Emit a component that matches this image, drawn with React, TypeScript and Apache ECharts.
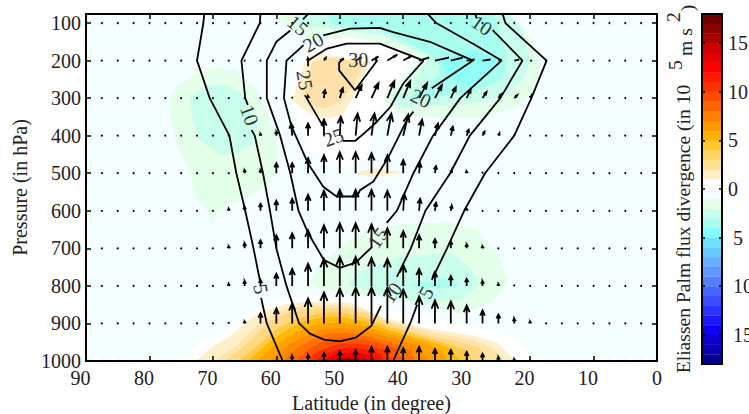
import React, { useEffect, useRef } from "react";
import * as echarts from "echarts";

type P = number[][];
const SERIF = "'Liberation Serif', 'Times New Roman', serif";

const pressureTicks = [100, 200, 300, 400, 500, 600, 700, 800, 900, 1000];
const barTicks = [-15, -10, -5, 0, 5, 10, 15];
const arrowLats = [87.5, 85, 82.5, 80, 77.5, 75, 72.5, 70, 67.5, 65, 62.5, 60, 57.5, 55, 52.5, 50, 47.5, 45, 42.5, 40, 37.5, 35, 32.5, 30, 27.5, 25, 22.5, 20, 17.5, 15, 12.5, 10, 7.5, 5, 2.5];

// Vertical and horizontal flux components per pressure level
const fz100 = [];
const fz200 = [0, 0, 0, 0, 0, 0, 0, 0, 0, 0, 0, 0, 0, 2, 3, 2, 3, 4, 6, 5, 3, 3, 3, 1, 1, 1, 1];
const fx200 = [0, 0, 0, 0, 0, 0, 0, 0, 0, 0, 0, 0, 0, 0, 2, 4, 6, 7, 10, 9, 10, 14, 12, 8, 8, 3, 5, 2];
const fz300 = [0, 0, 0, 0, 0, 0, 0, 0, 0, 0, 0, 0, 1, 2, 8, 10, 13, 15, 17, 17, 15, 13, 11, 9, 6, 4, 3, 2];
const fx300 = [0, 0, 0, 0, 0, 0, 0, 0, 0, 0, 0, 0, 0, 0, 1, 3, 6, 7, 7, 7, 8, 7, 5, 4, 4, 3, 3, 1];
const fz400 = [0, 0, 0, 0, 0, 0, 0, 0, 0, 0, 2, 4, 12, 12, 16, 19, 22, 22, 22, 21, 16, 12, 9, 6, 4, 2, 1];
const fx400 = [0, 0, 0, 0, 0, 0, 0, 0, 0, 0, 0, 0, -1, 0, 0, 1, 2, 3, 4, 5, 3, 3, 2, 2, 2, 1];
const fz500 = [0, 0, 0, 0, 0, 0, 0, 0, 0, 3, 3, 10, 10, 15, 18, 21, 21, 20, 18, 13, 10, 7, 3, 2, 1];
const fx500 = [0, 0, 0, 0, 0, 0, 0, 0, 0, 0, 0, 0, 0, 0, 0, 0, 0, 0, 0, 0, 1, 1, 1];
const fz600 = [0, 0, 0, 0, 0, 0, 0, 0, 2, 4, 7, 10, 12, 16, 20, 21, 21, 21, 20, 17, 12, 8, 5, 2];
const fx600 = [0, 0, 0, 0, 0, 0, 0, 0, 0, 0, 0, 0, 0, 0, 0, 0, 0, 0, 0, 1, 1, 1, 1];
const fz700 = [0, 0, 0, 0, 0, 0, 0, 0, 2, 5, 8, 13, 15, 18, 23, 25, 25, 24, 20, 17, 13, 9, 7, 4, 2];
const fz800 = [0, 0, 0, 0, 0, 0, 0, 0, 2, 5, 6, 12, 17, 22, 27, 29, 29, 28, 27, 21, 17, 14, 10, 7, 5, 2, 1];
const fz900 = [0, 0, 0, 0, 0, 0, 0, 0, 1, 2, 10, 15, 20, 25, 31, 35, 36, 36, 36, 34, 27, 23, 22, 18, 13, 9, 5, 2];
const fz1000 = [0, 0, 0, 0, 0, 0, 0, 0, 0, 0, 0, 0, 5, 6, 8, 10, 11, 14, 14, 13, 14, 12, 11, 9, 7, 4, 2, 1];
const fzRows = [fz100, fz200, fz300, fz400, fz500, fz600, fz700, fz800, fz900, fz1000];
const fxRows = [[], fx200, fx300, fx400, fx500, fx600, [], [], [], []];

// Contour segments: [latitude, pressure]
const c5a: P = [[71.2, 50], [71.5, 100], [72.5, 200], [70.5, 300], [67.4, 400], [66.3, 500], [64.9, 600], [63.6, 700], [62.6, 785]];
const c5b: P = [[62.4, 832], [61.5, 900], [59, 1000]];
const c5c: P = [[41.6, 1000], [38.9, 900], [37.8, 850]];
const c5d: P = [[35.5, 784], [33.1, 700], [30.4, 600], [27.1, 500], [22.5, 400], [19.8, 300], [17.4, 200], [23.9, 100], [24.8, 50]];
const c10a: P = [[62.4, 50], [62.6, 100], [65.5, 200], [64.9, 300], [64.5, 318]];
const c10b: P = [[63.9, 385], [63.4, 400], [62.1, 500], [61, 600], [60, 700], [58.4, 800], [56.4, 900], [54.7, 927], [52.5, 943], [50, 948], [47.5, 938], [45, 906], [43.5, 853]];
const c10c: P = [[41, 776], [38.8, 700], [36.5, 600], [32.6, 500], [29.5, 400], [24.7, 300], [21.2, 200], [25.9, 119]];
const c10d: P = [[29, 60], [28.4, 88]];
const c15a: P = [[53, 50], [55, 76], [55.8, 90]];
const c15b: P = [[57.8, 120], [60, 150], [61.5, 200], [61.5, 300], [59.4, 400], [57.8, 500], [56.5, 600], [55, 659], [52.5, 731], [50, 752], [47.5, 738], [44.9, 696]];
const c15c: P = [[42.6, 632], [41, 600], [38.4, 500], [35.3, 400], [31, 300], [24.5, 200], [29, 155], [34.8, 100], [37, 60]];
const c20a: P = [[55.7, 159], [58.4, 200], [58.8, 300], [57.6, 376], [55, 474], [52.6, 536], [50.5, 562], [47.3, 562], [46.8, 545], [44.7, 522], [42.3, 456], [39.4, 358], [38.4, 336]];
const c20b: P = [[35.5, 274], [29, 200], [35.8, 150], [41.6, 124], [43.7, 113], [48.4, 115], [52.6, 133]];
const c25a: P = [[55.5, 292], [52.6, 376]];
const c25b: P = [[49.5, 414], [47.6, 414], [46.8, 403], [44.4, 367], [42, 323], [40, 261], [36.8, 200], [38.9, 186], [43.7, 155], [48.9, 155], [52, 168], [55, 200], [55, 215]];
const c30: P = [[49.4, 196], [50.1, 205], [50.1, 226], [47.6, 279], [44.1, 200], [44.5, 197]];
const contours = [c5a, c5b, c5c, c5d, c10a, c10b, c10c, c10d, c15a, c15b, c15c, c20a, c20b, c25a, c25b, c30];

// Contour labels: text, latitude, pressure, tilt in degrees
const contourLabels: [string, number, number, number][] = [
  ["5", 62.4, 808, -80], ["10", 64.2, 345, -70], ["15", 56.6, 106, -40], ["20", 54.2, 151, 30],
  ["25", 55.5, 252, -80], ["30", 47.1, 199, 0], ["25", 51, 404, 20], ["20", 37.2, 300, -25],
  ["10", 27.6, 106, -35], ["15", 44, 672, 55], ["10", 41.8, 818, 55], ["5", 36.4, 818, 60],
];

// Divergence outlines, pale to saturated
const whiteA: P = [[57, 200], [52, 140], [45, 140], [38, 180], [41, 260], [44, 340], [46, 450], [50, 500], [55, 430], [58, 300]];
const whiteB: P = [[75, 1000], [72, 950], [67, 900], [62, 850], [55, 825], [48, 825], [43, 860], [36, 885], [28, 910], [22, 940], [19, 1000]];
const upperCold1: P = [[59.9, 76], [23.6, 76], [22.1, 93], [20, 138], [18.4, 207], [19.5, 287], [22.1, 324], [27.9, 353], [34.2, 353], [40, 345], [43.2, 305], [42.1, 279], [39.4, 239], [37.4, 199], [39.4, 178], [43.7, 151], [48.9, 138], [54.2, 146], [57.4, 119], [59.4, 98]];
const upperCold2: P = [[57.4, 76], [23.2, 76], [21.1, 127], [20, 199], [21.1, 247], [23.6, 292], [28.4, 313], [33.7, 319], [40, 324], [42.1, 292], [38.5, 250], [35.8, 191], [38.5, 170], [43.2, 133], [48.9, 119], [56.3, 106]];
const upperCold3: P = [[52, 76], [25.9, 76], [24.7, 127], [23.6, 199], [24.3, 252], [29.5, 287], [39.4, 302], [36.3, 266], [34.2, 239], [34.7, 196], [38.5, 159], [43.7, 119], [51, 106]];
const upperCold4: P = [[34.2, 199], [29.5, 172], [24.7, 199], [26.3, 239], [29.5, 266], [32.6, 247]];
const leftCold1: P = [[76.8, 300], [76, 271], [72.5, 234], [69.4, 220], [66.2, 226], [63, 279], [61.5, 340], [59.9, 403], [59.9, 483], [61.5, 536], [62.6, 545], [65.3, 571], [69.2, 598], [70, 643], [70.9, 598], [72.5, 571], [73.6, 499], [76, 412], [76.8, 340]];
const leftCold2: P = [[73.6, 297], [70.9, 266], [67.8, 266], [64.6, 297], [63, 377], [63.7, 420], [66.2, 446], [68.9, 451], [72, 412], [73.1, 367]];
const lowCold1: P = [[54.7, 797], [53.6, 749], [50.4, 704], [46.8, 661], [41, 637], [33, 629], [28.4, 651], [25.2, 709], [23.5, 791], [26.3, 845], [31, 874], [35.3, 858], [41.6, 831], [48.4, 818], [52.7, 810]];
const lowCold2: P = [[48.9, 797], [46.8, 762], [41, 725], [32.6, 712], [29.5, 752], [27.9, 797], [31, 837], [36.9, 845], [42.6, 824]];
const lowCold3: P = [[39.4, 797], [32.6, 778], [31, 795], [33, 805], [37, 805]];
const topWarm1: P = [[55.2, 186], [52.6, 183], [45.2, 204], [46.8, 266], [48.4, 311], [49.5, 345], [52.6, 356], [55.8, 329], [57.4, 303], [56.3, 250]];
const topWarm2: P = [[54.2, 204], [51.1, 191], [46.3, 210], [47.9, 266], [49.5, 303], [52.6, 329], [55, 311], [55.8, 289]];
const midWarm: P = [[47.6, 499], [44.1, 486], [40, 499], [43.7, 507], [47, 505]];
const base1: P = [[72.5, 1000], [70.1, 962], [67.3, 935], [64.9, 898], [62.3, 869], [58.3, 848], [54.2, 842], [48.4, 845], [43.2, 885], [36.9, 911], [28.4, 935], [25.2, 951], [22.4, 1000]];
const base2: P = [[69.7, 1000], [66, 955], [63, 905], [60, 868], [55, 852], [50, 850], [46, 865], [42, 895], [35, 925], [29, 945], [26, 965], [24, 1000]];
const base3: P = [[68, 1000], [64, 945], [61, 895], [58, 870], [54, 860], [50, 859], [46, 872], [42, 900], [38, 925], [32, 945], [28, 965], [26.5, 1000]];
const base4: P = [[66, 1000], [63, 960], [60, 915], [57, 888], [53, 872], [50, 870], [46, 885], [42, 910], [37, 935], [33, 955], [30, 972], [29, 1000]];
const base5: P = [[64.5, 1000], [61.5, 955], [59, 925], [56, 897], [53, 885], [50, 882], [46, 895], [42, 920], [37, 942], [33, 962], [31, 1000]];
const base6: P = [[63, 1000], [60, 955], [57, 925], [54, 905], [50, 897], [46, 908], [42, 928], [37, 950], [34, 972], [33, 1000]];
const base7: P = [[61, 1000], [58, 955], [55, 930], [53, 918], [50, 911], [46, 921], [42, 937], [38, 958], [36, 1000]];
const base8: P = [[59, 1000], [56.5, 962], [54, 940], [52, 928], [49, 925], [46, 933], [42, 950], [39, 970], [38, 1000]];
const base9: P = [[57, 1000], [55, 970], [53, 950], [50, 938], [47, 942], [44, 950], [41, 968], [40, 1000]];
const base10: P = [[55.5, 1000], [53.5, 975], [51, 958], [49, 952], [46, 957], [43, 970], [41.5, 1000]];
const base11: P = [[54, 1000], [52, 978], [50, 968], [48, 965], [45, 970], [43.5, 985], [43, 1000]];
const base12: P = [[53, 1000], [51, 985], [49, 978], [47, 978], [45, 985], [44, 1000]];
const base13: P = [[51.5, 1000], [50, 990], [48, 988], [46, 992], [45.5, 1000]];
const base14: P = [[50.5, 1000], [49, 994], [47.5, 994], [46.5, 1000]];

const fills: [P, string][] = [
  [whiteA, "#FFFFFF"], [whiteB, "#FFFFFF"],
  [upperCold1, "#E4FFEA"], [upperCold2, "#C8FFEC"], [upperCold3, "#A8FFF0"], [upperCold4, "#90FFF8"],
  [leftCold1, "#E4FFEA"], [leftCold2, "#C8FFEC"],
  [lowCold1, "#E4FFEA"], [lowCold2, "#C8FFEC"], [lowCold3, "#A8FFF0"],
  [topWarm1, "#FFEFC8"], [topWarm2, "#FFE0A8"], [midWarm, "#FFEFC8"],
  [base1, "#FFEFC8"], [base2, "#FFE4A8"], [base3, "#FFD880"], [base4, "#FFC947"], [base5, "#FFB800"], [base6, "#FFA000"],
  [base7, "#FF8C00"], [base8, "#FF7000"], [base9, "#FF5500"], [base10, "#FF3300"], [base11, "#FF1400"], [base12, "#F00000"],
  [base13, "#CC0000"], [base14, "#8B0000"],
];

// Colour bar bands, from -18 upward
const barColors = ["#050090", "#0800B0", "#0C00D0", "#1000F0", "#1C19FF", "#2B33FF", "#3A4CFF", "#4866FF", "#5580FF", "#5F99FF", "#66B0FF", "#66C8FF", "#70E0FF", "#80FFFF", "#A8FFF0", "#C8FFEC", "#E4FFEA", "#F5FFFF",
  "#FFFFFF", "#FFEFC8", "#FFE08C", "#FFD566", "#FFC72E", "#FFB300", "#FF9900", "#FF8000", "#FF6600", "#FF4D00", "#FF3300", "#FF1A00", "#FF0000", "#E60000", "#CC0000", "#AA0000", "#8B0000", "#6E0000"];

const rotatedText = (text: string, x: number, y: number) => ({
  type: "text", x, y, rotation: Math.PI / 2, z: 20,
  style: { text, font: `19.6px ${SERIF}`, fill: "#222", textAlign: "center", textVerticalAlign: "middle" },
});

function renderFill(_: any, api: any) {
  const [poly, color] = fills[api.value(2)];
  return { type: "polygon", shape: { points: poly.map((d) => api.coord(d)) }, style: { fill: color } };
}

function renderArrow(_: any, api: any) {
  const [x, y] = api.coord([api.value(0), api.value(1)]);
  const dx = api.value(2);
  const dy = api.value(3);
  const len = Math.hypot(dx, dy);
  if (len < 1.5) {
    return { type: "circle", shape: { cx: x + dx / 2, cy: y - dy / 2, r: 1 }, style: { fill: "#000" } };
  }
  const ux = dx / len;
  const uy = -dy / len;
  const tx = x + dx;
  const ty = y - dy;
  const head = Math.min(8.5, 1.2 + len * 0.3);
  const upright = (dy / len) * (dy / len);
  const half = Math.min(3.6, 1.1 + 0.1 * len) * upright;
  const bx = tx - ux * head;
  const by = ty - uy * head;
  return {
    type: "polyline",
    shape: { points: [[x, y], [tx, ty], [bx - uy * half, by + ux * half], [tx, ty], [bx + uy * half, by - ux * half]] },
    style: { stroke: "#000", lineWidth: 1.8, fill: null },
  };
}

function renderLabel(_: any, api: any) {
  const [text, lat, p, tilt] = contourLabels[api.value(2)];
  const [x, y] = api.coord([lat, p]);
  return {
    type: "text", x, y, rotation: (tilt * Math.PI) / 180,
    style: { text, font: `20px ${SERIF}`, fill: "#333", textAlign: "center", textVerticalAlign: "middle" },
  };
}

function renderBand(_: any, api: any) {
  const v = api.value(1);
  const a = api.coord([0, v + 1]);
  const b = api.coord([1, v]);
  return { type: "rect", shape: { x: a[0], y: a[1], width: b[0] - a[0], height: b[1] - a[1] + 0.3 }, style: { fill: barColors[v + 18] } };
}

export default function App() {
  const ref = useRef<HTMLDivElement>(null);
  useEffect(() => {
    const chart = echarts.init(ref.current!, undefined, { renderer: "svg" });
    const line = { show: true, onZero: false, lineStyle: { color: "#000", width: 2 } };
    const tick = { show: true, inside: true, length: 5, lineStyle: { color: "#000", width: 1.5 } };
    const label = { color: "#222", fontFamily: SERIF, fontSize: 20 };
    const nameStyle = { color: "#222", fontFamily: SERIF, fontSize: 20 };
    const plain = (v: number) => String(v);
    const arrowData: number[][] = [];
    pressureTicks.forEach((p, r) => {
      arrowLats.forEach((lat, i) => {
        arrowData.push([lat, p, fxRows[r][i] ?? 0, fzRows[r][i] ?? 0]);
      });
    });
    chart.setOption({
      animation: false,
      grid: [
        { left: 86, right: 92, top: 14, bottom: 53, show: true, backgroundColor: "#F5FFFF", borderWidth: 0, outerBoundsMode: "none" },
        { left: 702, right: 27, top: 14, bottom: 50, outerBoundsMode: "none" },
      ],
      xAxis: [
        { type: "value", gridIndex: 0, position: "bottom", inverse: true, min: 0, max: 90, interval: 10, z: 10, axisLine: line, axisTick: tick, splitLine: { show: false }, axisLabel: { ...label, margin: 9, formatter: (v: number) => (v === 0 ? `{z|${v}}` : `{t|${v}}`), rich: { z: { ...label, lineHeight: 16 }, t: { ...label, lineHeight: 16, padding: [0, 11, 0, 0] } } }, name: "Latitude (in degree)", nameLocation: "middle", nameGap: 30, nameTextStyle: nameStyle },
        { type: "value", gridIndex: 0, position: "top", inverse: true, min: 0, max: 90, interval: 10, z: 10, axisLine: line, axisTick: tick, splitLine: { show: false }, axisLabel: { show: false } },
        { type: "value", gridIndex: 1, position: "top", min: 0, max: 1, z: 10, axisLine: line, axisTick: { show: false }, splitLine: { show: false }, axisLabel: { show: false } },
        { type: "value", gridIndex: 1, position: "bottom", min: 0, max: 1, z: 10, axisLine: line, axisTick: { show: false }, splitLine: { show: false }, axisLabel: { show: false } },
      ],
      yAxis: [
        { type: "value", gridIndex: 0, position: "left", inverse: true, min: 76, max: 1000, z: 10, axisLine: line, axisTick: { ...tick, customValues: pressureTicks }, splitLine: { show: false }, axisLabel: { ...label, lineHeight: 16, margin: 5, customValues: pressureTicks, formatter: plain }, name: "Pressure (in hPa)", nameLocation: "middle", nameGap: 55, nameTextStyle: nameStyle },
        { type: "value", gridIndex: 0, position: "right", inverse: true, min: 76, max: 1000, z: 10, axisLine: line, axisTick: { ...tick, customValues: pressureTicks }, splitLine: { show: false }, axisLabel: { show: false } },
        { type: "value", gridIndex: 1, position: "right", min: -18, max: 18, z: 10, axisLine: line, axisTick: { ...tick, length: 3, customValues: barTicks }, splitLine: { show: false }, axisLabel: { ...label, margin: 6, customValues: barTicks, formatter: (v: number) => (v < 0 ? `{n|${Math.abs(v)}}` : `{p|${v}}`), rich: { n: { ...label, padding: [0, 0, 0, 5] }, p: { ...label } } } },
        { type: "value", gridIndex: 1, position: "left", min: -18, max: 18, z: 10, axisLine: line, axisTick: { ...tick, length: 3, customValues: barTicks }, splitLine: { show: false }, axisLabel: { show: false } },
      ],
      series: [
        { type: "custom", xAxisIndex: 0, yAxisIndex: 0, clip: true, silent: true, z: 2, renderItem: renderFill, encode: { x: 0, y: 1 }, data: fills.map((_, i) => [45, 500, i]) },
        ...contours.map((c) => ({ type: "line", xAxisIndex: 0, yAxisIndex: 0, clip: true, silent: true, z: 3, symbol: "none", lineStyle: { color: "#000", width: 1.8 }, data: c })),
        { type: "custom", xAxisIndex: 0, yAxisIndex: 0, clip: false, silent: true, z: 4, renderItem: renderArrow, encode: { x: 0, y: 1 }, data: arrowData },
        { type: "custom", xAxisIndex: 0, yAxisIndex: 0, clip: true, silent: true, z: 5, renderItem: renderLabel, encode: { x: 0, y: 1 }, data: contourLabels.map((_, i) => [45, 500, i]) },
        { type: "custom", xAxisIndex: 2, yAxisIndex: 2, clip: true, silent: true, z: 2, renderItem: renderBand, encode: { x: 0, y: 1 }, data: barColors.map((_, i) => [0, i - 18]) },
      ],
      graphic: [
        rotatedText("Eliassen Palm flux divergence (in 10", 683, 229),
        rotatedText("5", 675, 65),
        rotatedText("m s", 685, 42),
        rotatedText("2", 673, 17),
        rotatedText(")", 687, 8),
      ],
    });
    return () => chart.dispose();
  }, []);
  return <div ref={ref} style={{ position: "fixed", left: 0, top: 0, width: 749, height: 414, background: "#fff" }} />;
}
